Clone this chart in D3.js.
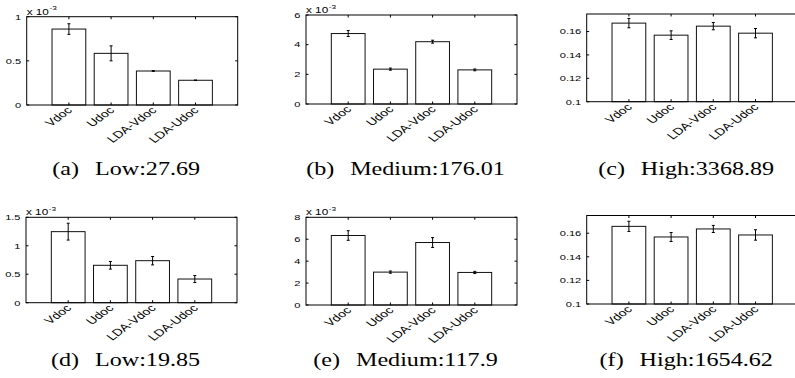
<!DOCTYPE html>
<html>
<head>
<meta charset="utf-8">
<script src="https://cdn.jsdelivr.net/npm/d3@7"></script>
<style>
  body { margin: 0; background: #fff; }
  text { font-family: "Liberation Sans", Arial, sans-serif; fill: #000; }
  .cap { font-family: "Liberation Serif", "Times New Roman", serif; }
</style>
</head>
<body>
<div id="wrapper"></div>
<script>
// categories
const methods = ["Vdoc", "Udoc", "LDA-Vdoc", "LDA-Udoc"];

// bar heights and error half-lengths, one pair per sub-figure
// (a) and (b), (d) and (e) are in units of 1e-3
const lowA = [0.86, 0.585, 0.385, 0.28];
const lowAErr = [0.06, 0.085, 0.004, 0.003];
const mediumB = [4.75, 2.35, 4.2, 2.3];
const mediumBErr = [0.2, 0.07, 0.1, 0.06];
const highC = [0.1672, 0.1569, 0.1646, 0.1586];
const highCErr = [0.004, 0.0037, 0.0031, 0.004];
const lowD = [1.248, 0.657, 0.738, 0.416];
const lowDErr = [0.148, 0.067, 0.074, 0.061];
const mediumE = [6.34, 3.0, 5.7, 2.97];
const mediumEErr = [0.44, 0.1, 0.45, 0.1];
const highF = [0.1658, 0.1568, 0.1636, 0.1585];
const highFErr = [0.0043, 0.0038, 0.003, 0.0044];

// y tick values
const ticksA = [0, 0.5, 1];
const ticksB = [0, 2, 4, 6];
const ticksC = [0.1, 0.12, 0.14, 0.16];
const ticksD = [0, 0.5, 1, 1.5];
const ticksE = [0, 2, 4, 6, 8];
const ticksF = [0.1, 0.12, 0.14, 0.16];

// captions
const labels = ["(a)", "(b)", "(c)", "(d)", "(e)", "(f)"];
const names = ["Low:27.69", "Medium:176.01", "High:3368.89", "Low:19.85", "Medium:117.9", "High:1654.62"];

const panels = [
    {vals: lowA, err: lowAErr, ticks: ticksA, ymin: 0, ymax: 1, exp: true, left: 26.7, top: 16.7, bottom: 105, capY: 175},
    {vals: mediumB, err: mediumBErr, ticks: ticksB, ymin: 0, ymax: 6, exp: true, left: 306, top: 15, bottom: 104, capY: 175},
    {vals: highC, err: highCErr, ticks: ticksC, ymin: 0.1, ymax: 0.175, exp: false, left: 586.7, top: 14, bottom: 101.7, capY: 175},
    {vals: lowD, err: lowDErr, ticks: ticksD, ymin: 0, ymax: 1.5, exp: true, left: 26, top: 217.3, bottom: 302.7, capY: 366},
    {vals: mediumE, err: mediumEErr, ticks: ticksE, ymin: 0, ymax: 8, exp: true, left: 306, top: 217.3, bottom: 305, capY: 366},
    {vals: highF, err: highFErr, ticks: ticksF, ymin: 0.1, ymax: 0.175, exp: false, left: 586.7, top: 215.5, bottom: 304, capY: 366}
];

const W = 795, H = 378;
const axW = 211;
const tickLen = 2.5;
const capStretch = 1.27;   // the figure text is wider than it is tall
const txtStretch = 1.38;

const svg = d3.select("#wrapper")
    .append("svg")
    .attr("width", W)
    .attr("height", H);

panels.forEach((p, i) => {
    const x = d3.scaleLinear().domain([0, 5]).range([p.left, p.left + axW]);
    const y = d3.scaleLinear().domain([p.ymin, p.ymax]).range([p.bottom, p.top]);
    const g = svg.append("g");
    const bw = x(0.8) - x(0);

    // bars
    g.selectAll("rect.bar")
        .data(p.vals)
        .enter()
        .append("rect")
        .attr("class", "bar")
        .attr("x", (d, j) => x(j + 1) - bw / 2)
        .attr("y", d => y(d))
        .attr("width", bw)
        .attr("height", d => y(p.ymin) - y(d))
        .style("fill", "#fff")
        .style("stroke", "#111")
        .style("stroke-width", 1);

    // error bars
    const eb = g.selectAll("g.eb")
        .data(p.vals)
        .enter()
        .append("g");
    eb.append("line")
        .attr("x1", (d, j) => x(j + 1))
        .attr("x2", (d, j) => x(j + 1))
        .attr("y1", (d, j) => y(d - p.err[j]))
        .attr("y2", (d, j) => y(d + p.err[j]));
    eb.append("line")
        .attr("x1", (d, j) => x(j + 1) - 1.5)
        .attr("x2", (d, j) => x(j + 1) + 1.5)
        .attr("y1", (d, j) => y(d + p.err[j]))
        .attr("y2", (d, j) => y(d + p.err[j]));
    eb.append("line")
        .attr("x1", (d, j) => x(j + 1) - 1.5)
        .attr("x2", (d, j) => x(j + 1) + 1.5)
        .attr("y1", (d, j) => y(d - p.err[j]))
        .attr("y2", (d, j) => y(d - p.err[j]));
    eb.selectAll("line")
        .style("stroke", "#000")
        .style("stroke-width", 1);

    // axes box
    g.append("rect")
        .attr("x", x(0))
        .attr("y", y(p.ymax))
        .attr("width", axW)
        .attr("height", y(p.ymin) - y(p.ymax))
        .style("fill", "none")
        .style("stroke", "#000")
        .style("stroke-width", 1);

    // y ticks, left and right, pointing in
    p.ticks.forEach(t => {
        [x(0), x(5)].forEach((xx, k) => {
            g.append("line")
                .attr("x1", xx)
                .attr("x2", k === 0 ? xx + tickLen : xx - tickLen)
                .attr("y1", y(t))
                .attr("y2", y(t))
                .style("stroke", "#000");
        });
    });
    g.selectAll("text.ytick")
        .data(p.ticks)
        .enter()
        .append("text")
        .attr("transform", d => `translate(${x(0) - 5.5},${y(d)}) scale(${txtStretch},1)`)
        .attr("dy", "0.35em")
        .style("font-size", "8px")
        .style("text-anchor", "end")
        .text(d => d3.format("~g")(d));

    // x ticks at categories, top and bottom
    methods.forEach((m, j) => {
        [y(p.ymin), y(p.ymax)].forEach((yy, k) => {
            g.append("line")
                .attr("x1", x(j + 1))
                .attr("x2", x(j + 1))
                .attr("y1", yy)
                .attr("y2", k === 0 ? yy - tickLen : yy + tickLen)
                .style("stroke", "#000");
        });
    });

    // rotated category labels
    g.selectAll("text.xtick")
        .data(methods)
        .enter()
        .append("text")
        .attr("transform", (d, j) => `translate(${x(j + 1) + 4},${p.bottom + 6}) scale(${txtStretch},1) rotate(-45)`)
        .style("font-size", "10px")
        .style("text-anchor", "end")
        .text(d => d);

    // exponent label
    if (p.exp) {
        const ex = g.append("text")
            .attr("transform", `translate(${x(0)},${y(p.ymax) - 2}) scale(${txtStretch},1)`)
            .style("font-size", "8.5px");
        ex.append("tspan").text("x 10");
        ex.append("tspan")
            .attr("dx", 0.5)
            .attr("dy", -4.5)
            .style("font-size", "6px")
            .text("-3");
    }

    // caption
    const cap = svg.append("text")
        .attr("class", "cap")
        .attr("transform", `translate(${p.left + axW / 2 - 6},${p.capY}) scale(${capStretch},1)`)
        .style("font-size", "19px")
        .style("text-anchor", "middle");
    cap.append("tspan").text(labels[i]);
    cap.append("tspan").attr("dx", 12.5).text(names[i]);
});
</script>
</body>
</html>
